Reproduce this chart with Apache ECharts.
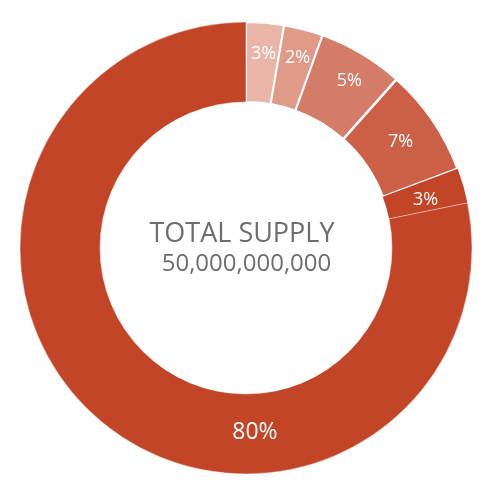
<!DOCTYPE html>
<html>
<head>
<meta charset="utf-8">
<script src="https://cdn.jsdelivr.net/npm/echarts@6/dist/echarts.min.js"></script>
<style>html,body{margin:0;padding:0;background:#fff}#c{width:494px;height:497px}</style>
</head>
<body>
<div id="c"></div>
<script>
var categories = ['A', 'B', 'C', 'D', 'E', 'F'];
var values = [2.7, 2.8, 6.1, 7.7, 2.5, 78.2];
var labels = ['3%', '2%', '5%', '7%', '3%', '80%'];
var colors = ['#E8B5A8', '#E09A88', '#D57C68', '#CC6047', '#C24527', '#C24527'];
var centerTitle = 'TOTAL SUPPLY';
var centerValue = '50,000,000,000';

// label placement tweaks (layout only)
var labelOffsets = [[1.5, -6.3], [3.5, -7.3], [6.5, -5], [-1.5, 0.7], [-2, 4.3], [128.5, 38]];

var chart = echarts.init(document.getElementById('c'));
var data = values.map(function (v, i) {
  var isLast = i === values.length - 1;
  return {
    name: categories[i],
    value: v,
    itemStyle: {
      color: colors[i],
      borderColor: isLast ? 'rgba(255,255,255,0.45)' : '#fff',
      borderWidth: isLast ? 1 : (i === 4 ? 0 : (i === 3 ? 2.5 : 2))
    },
    label: {
      formatter: labels[i],
      fontSize: isLast ? 23 : 18,
      offset: labelOffsets[i]
    }
  };
});
chart.setOption({
  animation: false,
  graphic: [
    { type: 'text', x: 242, y: 221, style: { text: centerTitle, fill: '#6e6e6e', font: '27px "Open Sans"', textAlign: 'center' } },
    { type: 'text', x: 246.5, y: 252.5, style: { text: centerValue, fill: '#6e6e6e', font: '24px "Open Sans"', textAlign: 'center' } }
  ],
  series: [{
    type: 'pie',
    center: [246, 248],
    radius: [146, 226],
    startAngle: 90,
    clockwise: true,
    label: {
      show: true,
      position: 'inside',
      color: '#fff',
      fontFamily: 'Open Sans'
    },
    labelLine: { show: false },
    emphasis: { disabled: true },
    data: data
  }]
});
</script>
</body>
</html>
